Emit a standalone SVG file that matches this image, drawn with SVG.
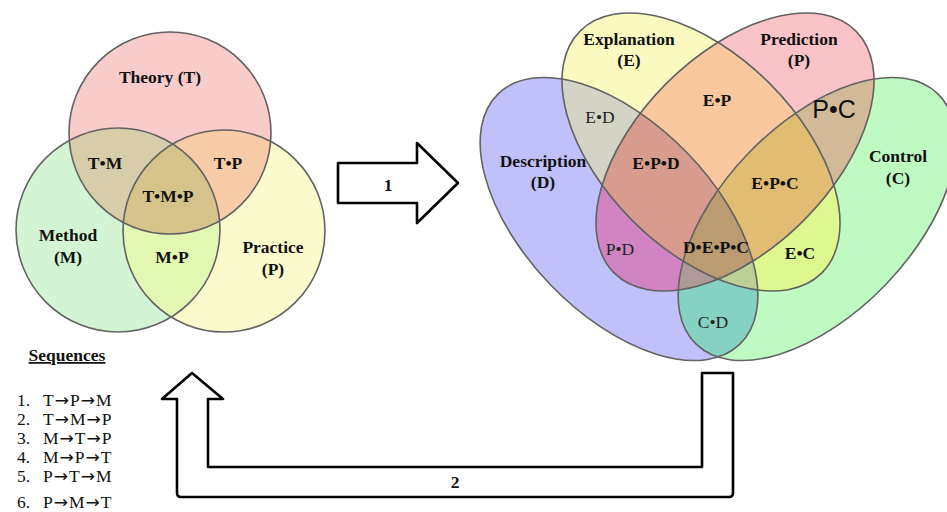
<svg xmlns="http://www.w3.org/2000/svg" width="947" height="512" viewBox="0 0 947 512">
<style>
.b{font-family:"Liberation Serif","Times New Roman",serif;font-weight:bold;font-size:17.5px;fill:#111;text-anchor:middle}
.r{font-family:"Liberation Serif","Times New Roman",serif;font-size:17.5px;fill:#222;text-anchor:middle}
.s{font-family:"Liberation Serif","Times New Roman",serif;font-size:17.5px;fill:#111}
.ar{font-family:"DejaVu Sans",sans-serif;font-size:17px}
.o{fill:none;stroke:#626262;stroke-width:1.6}
.arr{fill:#fff;stroke:#000;stroke-width:2.6;stroke-linejoin:round}
</style>
<defs>
  <circle id="cT0" cx="170" cy="133" r="101"/>
  <circle id="cM0" cx="118" cy="230" r="102"/>
  <circle id="cP0" cx="224" cy="231" r="101"/>
  <clipPath id="kT"><use href="#cT0"/></clipPath>
  <clipPath id="kM"><use href="#cM0"/></clipPath>
  <ellipse id="eD" cx="0" cy="0" rx="174" ry="95" transform="translate(619 219) rotate(46)"/>
  <ellipse id="eC" cx="0" cy="0" rx="174" ry="95" transform="translate(817 219) rotate(-46)"/>
  <ellipse id="eE" cx="0" cy="0" rx="171" ry="97" transform="translate(701 152) rotate(45)"/>
  <ellipse id="eP" cx="0" cy="0" rx="171" ry="97" transform="translate(735 152) rotate(-45)"/>
  <clipPath id="kD"><use href="#eD"/></clipPath>
  <clipPath id="kC"><use href="#eC"/></clipPath>
  <clipPath id="kE"><use href="#eE"/></clipPath>
  <clipPath id="kP"><use href="#eP"/></clipPath>
</defs>
<rect width="947" height="512" fill="#fff"/>

<g id="left-regions">
  <use href="#cT0" fill="#f9cccc"/>
  <use href="#cM0" fill="#d4f5d4"/>
  <use href="#cP0" fill="#fafacd"/>
  <g clip-path="url(#kT)"><use href="#cM0" fill="#d7cdab"/><use href="#cP0" fill="#f8cca6"/></g>
  <g clip-path="url(#kM)"><use href="#cP0" fill="#e2f8b2"/></g>
  <g clip-path="url(#kT)"><g clip-path="url(#kM)"><use href="#cP0" fill="#d6c38a"/></g></g>
</g>
<g id="theory"><use href="#cT0" class="o"/><text class="b" x="160" y="83">Theory (T)</text></g>
<g id="method"><use href="#cM0" class="o"/><text class="b" x="68" y="241">Method</text><text class="b" x="68" y="263">(M)</text></g>
<g id="practice"><use href="#cP0" class="o"/><text class="b" x="273" y="253">Practice</text><text class="b" x="273" y="275">(P)</text></g>
<g id="left-intersections">
  <text class="b" x="105" y="169">T•M</text>
  <text class="b" x="228" y="169">T•P</text>
  <text class="b" x="168" y="202">T•M•P</text>
  <text class="b" x="172" y="263">M•P</text>
</g>

<g id="right-regions">
  <use href="#eD" fill="#c0c0fa"/>
  <use href="#eC" fill="#c0fac3"/>
  <use href="#eE" fill="#fafac0"/>
  <use href="#eP" fill="#fac3c8"/>
  <g clip-path="url(#kD)"><use href="#eC" fill="#86d2c2"/><use href="#eE" fill="#d4d4c6"/><use href="#eP" fill="#d284c2"/></g>
  <g clip-path="url(#kE)"><use href="#eC" fill="#dcf88e"/><use href="#eP" fill="#f9c89e"/></g>
  <g clip-path="url(#kP)"><use href="#eC" fill="#d2ba98"/></g>
  <g clip-path="url(#kD)"><g clip-path="url(#kE)"><use href="#eP" fill="#d89c8e"/><use href="#eC" fill="#bcd096"/></g><g clip-path="url(#kP)"><use href="#eC" fill="#ae9a96"/></g></g>
  <g clip-path="url(#kE)"><g clip-path="url(#kP)"><use href="#eC" fill="#e0bd72"/></g></g>
  <g clip-path="url(#kD)"><g clip-path="url(#kE)"><g clip-path="url(#kP)"><use href="#eC" fill="#ba9c70"/></g></g></g>
</g>
<g id="description"><use href="#eD" class="o"/><text class="b" x="543" y="167">Description</text><text class="b" x="543" y="188">(D)</text></g>
<g id="control"><use href="#eC" class="o"/><text class="b" x="898" y="162">Control</text><text class="b" x="898" y="184">(C)</text></g>
<g id="explanation"><use href="#eE" class="o"/><text class="b" x="629" y="45">Explanation</text><text class="b" x="629" y="66">(E)</text></g>
<g id="prediction"><use href="#eP" class="o"/><text class="b" x="799" y="45">Prediction</text><text class="b" x="799" y="66">(P)</text></g>
<g id="right-intersections">
  <text class="b" x="717" y="106">E•P</text>
  <text class="r" x="600" y="123">E•D</text>
  <text x="834" y="118" style="font-family:'Liberation Sans',Arial,sans-serif;font-size:25px;fill:#111;text-anchor:middle">P•C</text>
  <text class="b" x="656" y="169">E•P•D</text>
  <text class="b" x="775" y="189">E•P•C</text>
  <text class="r" x="620" y="255">P•D</text>
  <text class="b" x="716" y="253">D•E•P•C</text>
  <text class="b" x="800" y="259">E•C</text>
  <text class="r" x="713" y="328">C•D</text>
</g>

<g id="connectors">
  <g id="arrow-1">
    <path class="arr" d="M338,163 L417,163 L417,143 L458,183 L417,223 L417,203 L338,203 Z"/>
    <text class="b" x="388" y="191">1</text>
  </g>
  <g id="arrow-2">
    <path class="arr" d="M192,373 L223,399 L208,399 L208,467 L702,467 L702,373 L733,373 L733,493 Q733,497 729,497 L181,497 Q177,497 177,493 L177,399 L162,399 Z"/>
    <text class="b" x="455" y="488">2</text>
  </g>
</g>

<g id="sequences">
  <text class="b" x="67" y="361" text-decoration="underline">Sequences</text>
  <text class="s" y="406"><tspan x="17">1.</tspan><tspan x="43">T<tspan class="ar" dx="1">→</tspan><tspan dx="1">P</tspan><tspan class="ar" dx="1">→</tspan><tspan dx="1">M</tspan></tspan></text>
  <text class="s" y="425"><tspan x="17">2.</tspan><tspan x="43">T<tspan class="ar" dx="1">→</tspan><tspan dx="1">M</tspan><tspan class="ar" dx="1">→</tspan><tspan dx="1">P</tspan></tspan></text>
  <text class="s" y="444"><tspan x="17">3.</tspan><tspan x="43">M<tspan class="ar" dx="1">→</tspan><tspan dx="1">T</tspan><tspan class="ar" dx="1">→</tspan><tspan dx="1">P</tspan></tspan></text>
  <text class="s" y="463"><tspan x="17">4.</tspan><tspan x="43">M<tspan class="ar" dx="1">→</tspan><tspan dx="1">P</tspan><tspan class="ar" dx="1">→</tspan><tspan dx="1">T</tspan></tspan></text>
  <text class="s" y="482"><tspan x="17">5.</tspan><tspan x="43">P<tspan class="ar" dx="1">→</tspan><tspan dx="1">T</tspan><tspan class="ar" dx="1">→</tspan><tspan dx="1">M</tspan></tspan></text>
  <text class="s" y="508"><tspan x="17">6.</tspan><tspan x="43">P<tspan class="ar" dx="1">→</tspan><tspan dx="1">M</tspan><tspan class="ar" dx="1">→</tspan><tspan dx="1">T</tspan></tspan></text>
</g>
</svg>
